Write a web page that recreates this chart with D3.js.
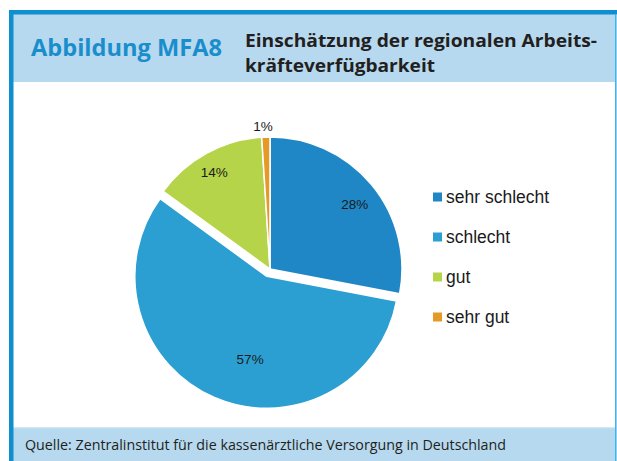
<!DOCTYPE html>
<html>
<head>
<meta charset="utf-8">
<script src="https://cdn.jsdelivr.net/npm/d3@7"></script>
<style>
  html, body { margin: 0; padding: 0; background: #ffffff; }
  svg { display: block; }
</style>
</head>
<body>
<svg id="chart" width="617" height="461"></svg>
<script>
// Data
const categories = ["sehr schlecht", "schlecht", "gut", "sehr gut"];
const shares = [28, 57, 14, 1];
const valueLabels = ["28%", "57%", "14%", "1%"];
const colors = ["#1f87c6", "#2b9fd2", "#b6d44a", "#e59a27"];

const figureLabel = "Abbildung MFA8";
const titleLines = ["Einschätzung der regionalen Arbeits-", "kräfteverfügbarkeit"];
const sourceNote = "Quelle: Zentralinstitut für die kassenärztliche Versorgung in Deutschland";

// Layout
const W = 617, H = 461;
const frameBlue = "#0f8fcf";
const bandBlue = "#b7d9ef";
const cx = 270, cy = 269, radius = 132;
const explodedCategory = "schlecht";
const explodeDistance = 8;
// label placement: fraction of radius, plus small angular nudges (degrees)
const labelRadiusFactor = [0.81, 0.64, 0.85, 1.085];
const labelAngleNudge = [2, -12, -1, -1];

const svg = d3.select("#chart");

// Frame and bands
svg.append("rect").attr("x", 13).attr("y", 14).attr("width", W - 15).attr("height", 68).attr("fill", bandBlue);
svg.append("rect").attr("x", 13).attr("y", 428).attr("width", W - 15).attr("height", H - 428).attr("fill", bandBlue);
svg.append("rect").attr("x", 13).attr("y", 427).attr("width", W - 15).attr("height", 1.2).attr("fill", "#d3e8f5");
svg.append("rect").attr("x", 9).attr("y", 10).attr("width", W - 9).attr("height", 4.5).attr("fill", frameBlue);
svg.append("rect").attr("x", 9).attr("y", 10).attr("width", 4.5).attr("height", H - 10).attr("fill", frameBlue);
svg.append("rect").attr("x", W - 2).attr("y", 14).attr("width", 1.6).attr("height", H - 14).attr("fill", "#45b3e6");

// Header texts
svg.append("text")
  .attr("x", 31).attr("y", 56)
  .attr("font-family", "'Open Sans', Lato, sans-serif")
  .attr("font-weight", 700).attr("font-size", 24)
  .attr("fill", "#1a8dcc")
  .attr("textLength", 191).attr("lengthAdjust", "spacingAndGlyphs")
  .text(figureLabel);

const titleWidths = [352, 190];
titleLines.forEach((line, i) => {
  svg.append("text")
    .attr("x", 245).attr("y", 47 + i * 25)
    .attr("font-family", "'Open Sans', Lato, sans-serif")
    .attr("font-weight", 700).attr("font-size", 18)
    .attr("fill", "#231f20")
    .attr("textLength", titleWidths[i]).attr("lengthAdjust", "spacingAndGlyphs")
    .text(line);
});

// Footer
svg.append("text")
  .attr("x", 25).attr("y", 450)
  .attr("font-family", "'Open Sans', Lato, sans-serif")
  .attr("font-size", 14)
  .attr("fill", "#231f20")
  .attr("textLength", 481).attr("lengthAdjust", "spacingAndGlyphs")
  .text(sourceNote);

// Pie
const slices = categories.map((c, i) => ({ category: c, value: shares[i], label: valueLabels[i], color: colors[i], i }));
const pie = d3.pie().value(d => d.value).sort(null);
const arc = d3.arc().innerRadius(0).outerRadius(radius);
const arcs = pie(slices);

const g = svg.append("g").attr("transform", `translate(${cx},${cy})`);

function offsetOf(a) {
  if (a.data.category !== explodedCategory) return [0, 0];
  const mid = (a.startAngle + a.endAngle) / 2;
  return [Math.sin(mid) * explodeDistance, -Math.cos(mid) * explodeDistance];
}

g.selectAll("path.slice")
  .data(arcs)
  .join("path")
  .attr("class", "slice")
  .attr("d", arc)
  .attr("transform", d => { const [dx, dy] = offsetOf(d); return `translate(${dx},${dy})`; })
  .attr("fill", d => d.data.color)
  .attr("stroke", "#ffffff")
  .attr("stroke-width", 1.5)
  .attr("stroke-linejoin", "round");

g.selectAll("text.val")
  .data(arcs)
  .join("text")
  .attr("class", "val")
  .attr("transform", d => {
    const [dx, dy] = offsetOf(d);
    const mid = (d.startAngle + d.endAngle) / 2 + labelAngleNudge[d.data.i] * Math.PI / 180;
    const r = radius * labelRadiusFactor[d.data.i];
    return `translate(${dx + Math.sin(mid) * r},${dy - Math.cos(mid) * r})`;
  })
  .attr("text-anchor", "middle")
  .attr("dy", "0.36em")
  .attr("font-family", "'Liberation Sans', Arial, sans-serif")
  .attr("font-size", 13.5)
  .attr("fill", "#1a1a1a")
  .text(d => d.data.label);

// Legend
const legendY = d3.scalePoint().domain(categories).range([197, 317]);
const legend = svg.append("g");
const rows = legend.selectAll("g.row")
  .data(slices)
  .join("g")
  .attr("class", "row")
  .attr("transform", d => `translate(433,${legendY(d.category)})`);
rows.append("rect")
  .attr("x", 0).attr("y", -4.5).attr("width", 9).attr("height", 9)
  .attr("fill", d => d.color);
rows.append("text")
  .attr("x", 13).attr("y", 0).attr("dy", "0.35em")
  .attr("font-family", "'Liberation Sans', Arial, sans-serif")
  .attr("font-size", 17.5)
  .attr("fill", "#1a1a1a")
  .text(d => d.category);
</script>
</body>
</html>
